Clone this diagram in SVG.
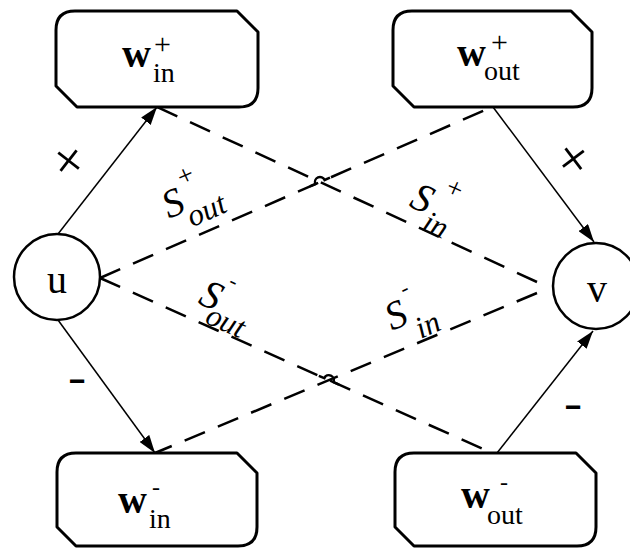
<svg xmlns="http://www.w3.org/2000/svg" width="630" height="548" viewBox="0 0 630 548">
<style>
  .box{fill:#fff;stroke:#000;stroke-width:3;stroke-linejoin:round}
  .circ{fill:#fff;stroke:#000;stroke-width:2.5}
  .solid{fill:none;stroke:#000;stroke-width:1.5}
  .dash{fill:none;stroke:#000;stroke-width:2.5;stroke-dasharray:22 14}
  .hop{fill:none;stroke:#000;stroke-width:2.5}
  text{font-family:"Liberation Serif","Times New Roman",serif;fill:#000}
  .w{font-size:40px;font-weight:bold}
  .sup{font-size:30px}
  .supm{font-size:24px}
  .sub{font-size:28px}
  .node{font-size:40px}
  .S{font-size:40px;font-style:italic}
  .Ssup{font-size:28px;font-style:italic}
  .Ssupm{font-size:22px;font-style:italic}
  .Ssub{font-size:31px;font-style:italic}
  .plus{font-size:56px}
  .minus{font-size:42px;font-weight:bold}
</style>
<defs>
  <marker id="arr" viewBox="0 0 18 12" refX="18" refY="6" markerWidth="18" markerHeight="12" markerUnits="userSpaceOnUse" orient="auto">
    <path d="M0,0 L18,6 L0,12 z" fill="#000"/>
  </marker>
</defs>

<g id="connectors">
  <line class="solid" x1="58" y1="234" x2="157" y2="107" marker-end="url(#arr)"/>
  <line class="solid" x1="493" y1="107" x2="594" y2="242" marker-end="url(#arr)"/>
  <line class="solid" x1="58" y1="320" x2="155" y2="453" marker-end="url(#arr)"/>
  <line class="solid" x1="497" y1="453" x2="593" y2="331" marker-end="url(#arr)"/>
  <path class="dash" d="M537,282 L157,107"/>
  <path class="dash" d="M100,278 L492,107"/>
  <path class="dash" d="M100,278 L492,453"/>
  <path class="dash" d="M537,293 L155,453"/>
  <path class="hop" d="M309.9,186.4 L315.4,184 A5,5 0 0 1 324.6,180 L330,177.6"/>
  <path class="hop" d="M318.8,375.8 L324.3,378.2 A5,5 0 0 1 333.5,382.2 L339,384.6"/>
  <text class="plus" transform="translate(73,164) rotate(-52)" text-anchor="middle" y="13">+</text>
  <text class="plus" transform="translate(569,162) rotate(53)" text-anchor="middle" y="13">+</text>
  <text class="minus" transform="translate(77,381) scale(1.3,1)" text-anchor="middle" y="10">-</text>
  <text class="minus" transform="translate(573,407) scale(1.3,1)" text-anchor="middle" y="10">-</text>
  <g id="lbl-sout-plus" transform="translate(169,219) rotate(-24)">
    <text class="S" x="0" y="0">S</text>
    <text class="Ssup" x="23" y="-24">+</text>
    <text class="Ssub" x="18" y="17">out</text>
  </g>
  <g id="lbl-sin-plus" transform="translate(408,206) rotate(24)">
    <text class="S" x="0" y="0">S</text>
    <text class="Ssup" x="26" y="-26">+</text>
    <text class="Ssub" x="21" y="16">in</text>
  </g>
  <g id="lbl-sout-minus" transform="translate(197,303) rotate(24)">
    <text class="S" x="0" y="0">S</text>
    <text class="Ssupm" x="21" y="-28">-</text>
    <text class="Ssub" x="14" y="15">out</text>
  </g>
  <g id="lbl-sin-minus" transform="translate(392,331) rotate(-24)">
    <text class="S" x="0" y="0">S</text>
    <text class="Ssupm" x="25" y="-27">-</text>
    <text class="Ssub" x="23" y="19">in</text>
  </g>
</g>

<g id="node-u">
  <circle class="circ" cx="57" cy="277" r="43"/>
  <text class="node" x="57" y="293" text-anchor="middle">u</text>
</g>
<g id="node-v">
  <circle class="circ" cx="596" cy="286" r="43"/>
  <text class="node" x="597" y="302" text-anchor="middle">v</text>
</g>

<g id="node-win-plus">
  <path class="box" d="M75,11 L237,11 L258,32 L258,88 Q258,107 239,107 L77,107 L56,86 L56,30 Q56,11 75,11 Z"/>
  <text class="w" x="122" y="67">w</text>
  <text class="sup" x="154" y="54">+</text>
  <text class="sub" x="153" y="82">in</text>
</g>
<g id="node-wout-plus">
  <path class="box" d="M412,11 L571,11 L592,32 L592,88 Q592,107 573,107 L414,107 L393,86 L393,30 Q393,11 412,11 Z"/>
  <text class="w" x="457" y="66">w</text>
  <text class="sup" x="491" y="52">+</text>
  <text class="sub" x="484" y="80">out</text>
</g>
<g id="node-win-minus">
  <path class="box" d="M76,453 L237,453 L257,473 L257,527 Q257,546 238,546 L76,546 L57,527 L57,472 Q57,453 76,453 Z"/>
  <text class="w" x="118" y="513">w</text>
  <text class="supm" x="152" y="495">-</text>
  <text class="sub" x="149" y="528">in</text>
</g>
<g id="node-wout-minus">
  <path class="box" d="M414,453 L576,453 L596,473 L596,527 Q596,546 577,546 L414,546 L395,527 L395,472 Q395,453 414,453 Z"/>
  <text class="w" x="461" y="508">w</text>
  <text class="supm" x="500" y="490">-</text>
  <text class="sub" x="487" y="524">out</text>
</g>
</svg>
